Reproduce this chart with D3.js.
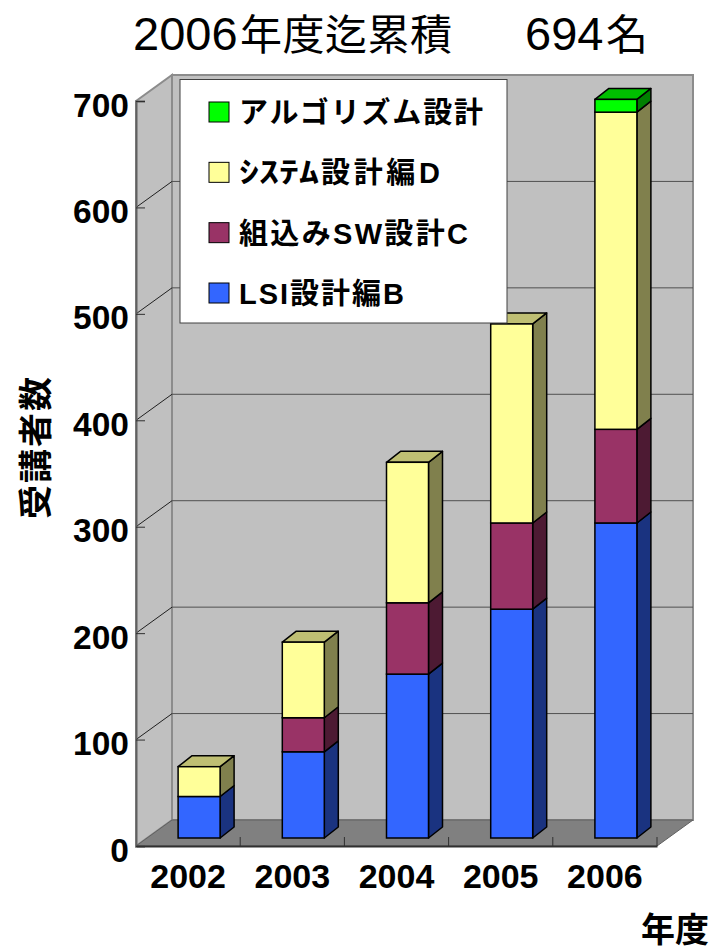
<!DOCTYPE html>
<html>
<head>
<meta charset="utf-8">
<title>2006年度迄累積</title>
<script src="https://d3js.org/d3.v7.min.js"></script>
<style>
    html, body { margin: 0; padding: 0; background: #fff; }
    svg { display: block; }
    text { font-family: "Liberation Sans", "Noto Sans CJK JP", sans-serif; fill: #000; }
</style>
</head>
<body>
<div id="chart"></div>
<script>
    // Data
    var years = ["2002", "2003", "2004", "2005", "2006"];
    var lsi = [39, 81, 154, 215, 296];
    var embedded = [0, 32, 67, 81, 88];
    var system = [28, 71, 132, 187, 298];
    var algorithm = [0, 0, 0, 0, 12];
    var seriesNames = ["LSI設計編B", "組込みSW設計C", "ｼｽﾃﾑ設計編D", "アルゴリズム設計"];
    var yTicks = [0, 100, 200, 300, 400, 500, 600, 700];

    var width = 714, height = 949;
    var plotLeft = 136, plotRight = 657, plotBottom = 846, plotTop = 101;

    // 3D offsets: wall depth, bar depth, and how far bars sit in from the front edge
    var wallDx = 36, wallDy = 26;
    var barDx = 14, barDy = 11;
    var inDx = 11, inDy = 8;

    var svg = d3.select("#chart").append("svg")
        .attr("width", width)
        .attr("height", height);

    var x = d3.scaleBand().domain(years).range([plotLeft, plotRight]).paddingInner(0.597).paddingOuter(0.2985);
    var y = d3.scaleLinear().domain([0, 700]).range([plotBottom, plotTop]);

    var colors = [
        { front: "#3366ff", side: "#1a3380", top: "#264dbf" },
        { front: "#993366", side: "#4d1a33", top: "#732650" },
        { front: "#ffff99", side: "#80804d", top: "#bfbf73" },
        { front: "#00ff00", side: "#008000", top: "#00bf00" }
    ];

    function poly(pts) { return "M" + pts.join("L") + "Z"; }

    // Walls and floor
    svg.append("path")
        .attr("d", poly([[plotLeft + wallDx, y(700) - wallDy], [plotRight + wallDx, y(700) - wallDy], [plotRight + wallDx, y(0) - wallDy], [plotLeft + wallDx, y(0) - wallDy]]))
        .attr("fill", "#c0c0c0").attr("stroke", "#8c8c8c").attr("stroke-width", 2);
    svg.append("path")
        .attr("d", poly([[plotLeft, y(700)], [plotLeft + wallDx, y(700) - wallDy], [plotLeft + wallDx, y(0) - wallDy], [plotLeft, y(0)]]))
        .attr("fill", "#c0c0c0").attr("stroke", "#8c8c8c").attr("stroke-width", 2);
    svg.append("path")
        .attr("d", poly([[plotLeft, y(0)], [plotLeft + wallDx, y(0) - wallDy], [plotRight + wallDx, y(0) - wallDy], [plotRight, y(0)]]))
        .attr("fill", "#808080").attr("stroke", "#606060").attr("stroke-width", 1);

    // Gridlines on back and side wall
    var grid = svg.append("g").selectAll("g").data(yTicks.filter(function(d) { return d > 0 && d < 700; })).enter().append("g");
    grid.append("line")
        .attr("x1", plotLeft + wallDx).attr("x2", plotRight + wallDx)
        .attr("y1", function(d) { return y(d) - wallDy; })
        .attr("y2", function(d) { return y(d) - wallDy; })
        .attr("stroke", "#505050").attr("stroke-width", 1);
    grid.append("line")
        .attr("x1", plotLeft).attr("x2", plotLeft + wallDx)
        .attr("y1", function(d) { return y(d); })
        .attr("y2", function(d) { return y(d) - wallDy; })
        .attr("stroke", "#202020").attr("stroke-width", 1);

    // Stacked 3D bars
    var rows = years.map(function(year, i) {
        return { year: year, 0: lsi[i], 1: embedded[i], 2: system[i], 3: algorithm[i] };
    });
    var stacked = d3.stack().keys([0, 1, 2, 3])(rows);

    years.forEach(function(year, i) {
        var bx = x(year) + inDx, bw = x.bandwidth();
        var g = svg.append("g");
        var topIndex = -1;
        stacked.forEach(function(s, k) { if (s[i][1] > s[i][0]) topIndex = k; });
        stacked.forEach(function(s, k) {
            if (s[i][1] <= s[i][0]) return;
            var y0 = y(s[i][0]) - inDy, y1 = y(s[i][1]) - inDy;
            g.append("path")
                .attr("d", poly([[bx + bw, y0], [bx + bw + barDx, y0 - barDy], [bx + bw + barDx, y1 - barDy], [bx + bw, y1]]))
                .attr("fill", colors[k].side).attr("stroke", "#000").attr("stroke-width", 1.5).attr("stroke-linejoin", "round");
            if (k === topIndex) {
                g.append("path")
                    .attr("d", poly([[bx, y1], [bx + barDx, y1 - barDy], [bx + bw + barDx, y1 - barDy], [bx + bw, y1]]))
                    .attr("fill", colors[k].top).attr("stroke", "#000").attr("stroke-width", 1.5).attr("stroke-linejoin", "round");
            }
            g.append("rect")
                .attr("x", bx).attr("y", y1).attr("width", bw).attr("height", y0 - y1)
                .attr("fill", colors[k].front).attr("stroke", "#000").attr("stroke-width", 1.5);
        });
    });

    // Y axis
    var yAxis = svg.append("g")
        .attr("transform", "translate(" + plotLeft + ",0)")
        .call(d3.axisLeft(y).tickValues(yTicks).tickSize(-9));
    yAxis.select(".domain").attr("stroke", "#606060").attr("stroke-width", 2);
    yAxis.selectAll(".tick line").attr("stroke", "#303030");
    yAxis.selectAll(".tick text")
        .attr("x", -7).attr("dy", "15px")
        .style("font-size", "33.5px").style("font-weight", "bold");

    // X axis, with ticks on the band edges
    var xAxis = svg.append("g")
        .attr("transform", "translate(0," + plotBottom + ")")
        .call(d3.axisBottom(x).tickSize(0));
    xAxis.select(".domain").attr("stroke", "#303030").attr("stroke-width", 2);
    xAxis.selectAll(".tick text")
        .attr("y", 42).attr("dy", 0)
        .style("font-size", "34px").style("font-weight", "bold");
    xAxis.selectAll(".edge").data(years).enter().append("line")
        .attr("class", "edge")
        .attr("x1", function(d) { return x(d) + x.step() - x.step() * x.paddingInner() / 2; })
        .attr("x2", function(d) { return x(d) + x.step() - x.step() * x.paddingInner() / 2; })
        .attr("y1", 0).attr("y2", -9)
        .attr("stroke", "#303030");

    // Title and axis titles
    var title = svg.append("text").attr("y", 50).style("font-size", "42px");
    title.append("tspan").attr("x", 133).style("font-size", "47px").text("2006");
    title.append("tspan").attr("x", 240).attr("textLength", 212).text("年度迄累積");
    title.append("tspan").attr("x", 525).style("font-size", "47px").text("694");
    title.append("tspan").attr("x", 606).text("名");

    svg.append("text")
        .attr("transform", "translate(48,447) rotate(-90)")
        .attr("text-anchor", "middle")
        .style("font-size", "34px").style("font-weight", "bold").style("letter-spacing", "2px")
        .text("受講者数");
    svg.append("text").attr("x", 641).attr("y", 942)
        .style("font-size", "34px").style("font-weight", "bold")
        .text("年度");

    // Legend
    var legend = svg.append("g");
    legend.append("rect")
        .attr("x", 180).attr("y", 79.5).attr("width", 327).attr("height", 243.5)
        .attr("fill", "#fff").attr("stroke", "#404040").attr("stroke-width", 1);
    var legendY = d3.scalePoint().domain([3, 2, 1, 0]).range([112, 293]);
    var legendTextWidth = [165, 229, 201, 244];
    var kanaWidth = 80;
    var item = legend.selectAll(".item").data([3, 2, 1, 0]).enter().append("g")
        .attr("class", "item")
        .attr("transform", function(d) { return "translate(209," + legendY(d) + ")"; });
    item.append("rect")
        .attr("y", -10).attr("width", 20).attr("height", 20)
        .attr("fill", function(d) { return colors[d].front; })
        .attr("stroke", "#000").attr("stroke-width", 1);
    item.append("text")
        .attr("x", 30).attr("y", 11)
        .style("font-size", "29px").style("font-weight", "bold")
        .each(function(d) {
            var t = d3.select(this);
            // half-width kana run is stretched to its width in the picture
            var kana = seriesNames[d].match(/^[ｦ-ﾟ]+/);
            if (kana) {
                t.append("tspan").attr("textLength", kanaWidth).attr("lengthAdjust", "spacingAndGlyphs").text(kana[0]);
                t.append("tspan").attr("x", 32 + kanaWidth).attr("textLength", legendTextWidth[d] - kanaWidth - 2)
                    .text(seriesNames[d].slice(kana[0].length));
            } else {
                t.attr("textLength", legendTextWidth[d]).text(seriesNames[d]);
            }
        });
</script>
</body>
</html>
